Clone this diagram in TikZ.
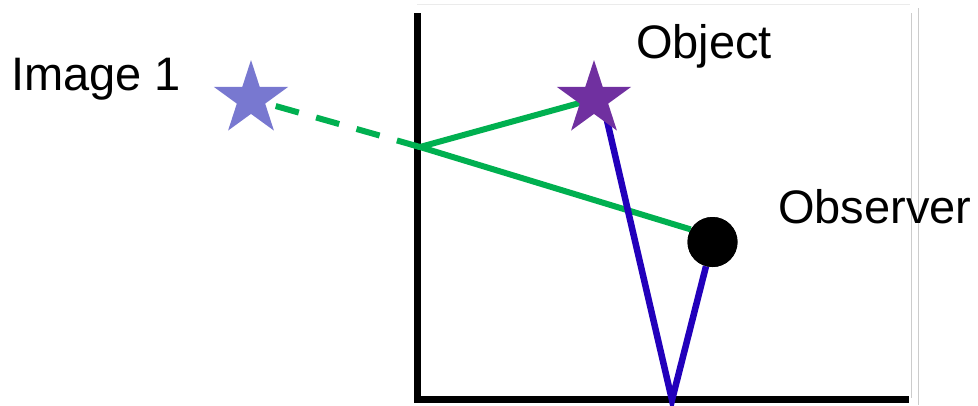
\documentclass[tikz,border=0pt]{standalone}
\usepackage{fontspec}
\setmainfont{Liberation Sans}
\usetikzlibrary{shapes.geometric}
\definecolor{raygreen}{RGB}{0,176,80}
\definecolor{rayblue}{RGB}{34,0,187}
\definecolor{objpurple}{RGB}{112,48,160}
\definecolor{imgblue}{RGB}{120,120,208}

\begin{document}
\begin{tikzpicture}[
    x=1pt, y=-1pt,
    starmark/.style={star, star points=5, star point ratio=2.618, minimum size=78pt, inner sep=0pt},
    eye/.style={circle, fill=black, minimum size=50pt, inner sep=0pt},
    tag/.style={anchor=base west, inner sep=0pt, font=\fontsize{47}{56}\selectfont},
    mirror/.style={line width=7.5pt},
    greenray/.style={raygreen, line width=6pt},
    blueray/.style={rayblue, line width=6.5pt},
    frame/.style={black!20, line width=1pt}
]
    \useasboundingbox (0,0) rectangle (978,405);

    % faint slide border
    \draw[frame, black!8] (417,4.5) -- (910,4.5);
    \draw[frame] (911,13) -- (911,398);
    \draw[frame] (918,8) -- (918,405);

    % mirror
    \draw[mirror] (417.3,13) -- (417.3,399.5) -- (909,399.5);

    \coordinate (wall) at (420,147);
    \coordinate (floor) at (672,400);
    \coordinate (src) at (602,99);

    \node[starmark] (img) at (251,99) {};
    \node[starmark] (obj) at (594,99) {};
    \node[eye] (obs) at (712.5,242) {};

    \draw[greenray, dash pattern=on 24pt off 18pt] (wall) -- (img.center);
    \draw[greenray] (obj.center) -- (wall) -- (obs.150);
    \draw[blueray] (src) -- (floor) -- (obs.-105);

    \node[starmark, fill=imgblue] at (img) {};
    \node[starmark, fill=objpurple] at (obj) {};
    \node[eye] at (obs) {};

    \node[tag] (imglbl) at (11,90) {Image 1};
    \node[tag] (objlbl) at (636,58) {Object};
    \node[tag] (obslbl) at (778,223) {Observer};
\end{tikzpicture}
\end{document}
